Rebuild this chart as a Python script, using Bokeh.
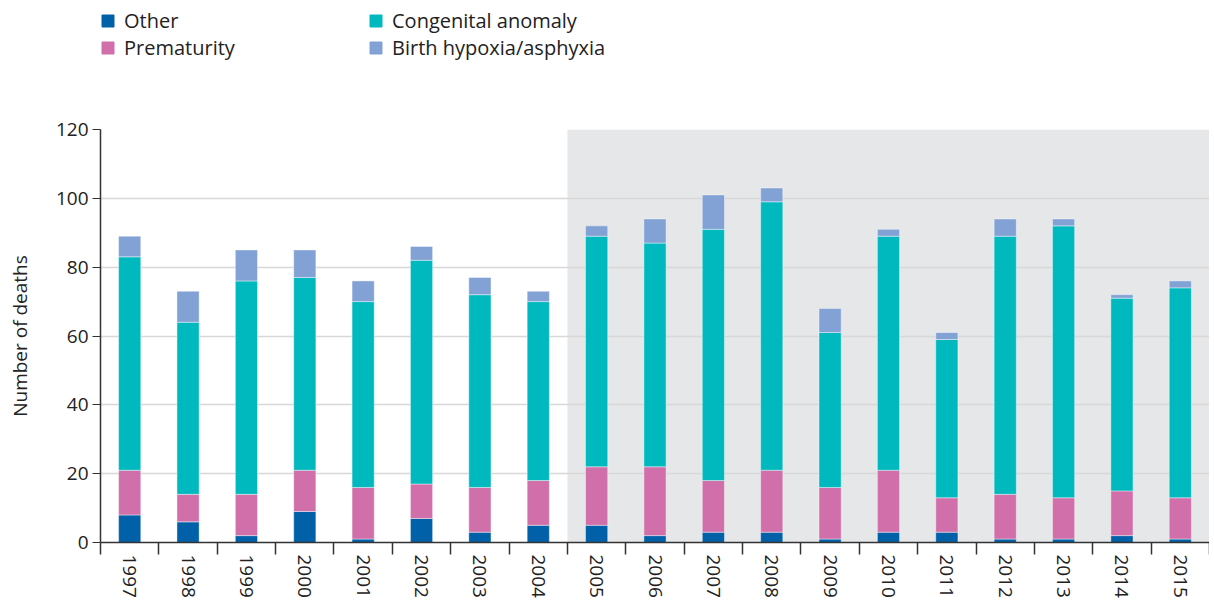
import math
from bokeh.plotting import figure
from bokeh.layouts import column
from bokeh.models import (Range1d, FixedTicker, BoxAnnotation, Legend, LegendItem,
                          ColumnDataSource)
from bokeh.embed import file_html
from bokeh.resources import INLINE

years = [str(y) for y in range(1997, 2016)]
other = [8, 6, 2, 9, 1, 7, 3, 5, 5, 2, 3, 3, 1, 3, 3, 1, 1, 2, 1]
prematurity = [13, 8, 12, 12, 15, 10, 13, 13, 17, 20, 15, 18, 15, 18, 10, 13, 12, 13, 12]
congenital = [62, 50, 62, 56, 54, 65, 56, 52, 67, 65, 73, 78, 45, 68, 46, 75, 79, 56, 61]
birth_hypoxia = [6, 9, 9, 8, 6, 4, 5, 3, 3, 7, 10, 4, 7, 2, 2, 5, 2, 1, 2]
series_names = ["Other", "Prematurity", "Congenital anomaly", "Birth hypoxia/asphyxia"]
series_colors = ["#0061a8", "#d06fa9", "#00b9be", "#82a1d4"]
shade_from_year = "2005"
y_ticks = [0, 20, 40, 60, 80, 100, 120]

FONT = "Open Sans"
TXT = "#222222"

n = len(years)
xpos = list(range(n))
src = ColumnDataSource(dict(x=xpos, other=other, prematurity=prematurity,
                            congenital=congenital, birth=birth_hypoxia))

# ---------- legend strip ----------
LH = 114
lg = figure(width=1209, height=LH, x_range=Range1d(0, 1), y_range=Range1d(0, 1),
            output_backend="svg", toolbar_location=None, x_axis_type=None,
            y_axis_type=None, min_border=0)
lg.outline_line_color = None
lg.grid.visible = False
# legend swatches only (placed outside the visible range)
dummy = [lg.vbar(x=[-10], top=[0], width=0.1, color=c) for c in series_colors]
legend = Legend(items=[LegendItem(label=series_names[i], renderers=[dummy[i]]) for i in range(4)],
                ncols=2, orientation="vertical", location=(0, LH - 61))
legend.background_fill_alpha = 0
legend.border_line_color = None
legend.padding = 0
legend.margin = 0
legend.glyph_width = 15
legend.glyph_height = 15
legend.label_height = 20
legend.label_width = 244
legend.label_standoff = 9
legend.spacing = 0
legend.label_text_font = FONT
legend.label_text_font_size = "20px"
legend.label_text_color = TXT
lg.add_layout(legend)

# ---------- main chart ----------
p = figure(width=1209, height=600 - LH, x_range=Range1d(-0.5, n - 0.5),
           y_range=Range1d(0, 120), output_backend="svg", toolbar_location=None,
           min_border_left=100, min_border_right=0, min_border_top=129 - LH,
           min_border_bottom=58)
p.outline_line_color = None
p.background_fill_color = "white"

shade = BoxAnnotation(left=years.index(shade_from_year) - 0.5, fill_color="#e6e7e9",
                      fill_alpha=1, line_color=None, level="image")
p.add_layout(shade)

rs = p.vbar_stack(["other", "prematurity", "congenital", "birth"], x="x", width=0.38,
                  color=series_colors, source=src, line_color="white",
                  line_alpha=0.6, line_width=0.7)

# x axis
p.xaxis.ticker = FixedTicker(ticks=xpos, minor_ticks=[i - 0.5 for i in range(n + 1)])
p.xaxis.major_label_overrides = {i: years[i] for i in xpos}
p.xaxis.major_tick_line_color = None
p.xaxis.major_tick_out = 0
p.xaxis.major_tick_in = 0
p.xaxis.minor_tick_in = 0
p.xaxis.minor_tick_out = 12
p.xaxis.minor_tick_line_color = "#333333"
p.xaxis.minor_tick_line_width = 1.5
p.xaxis.axis_line_color = "#333333"
p.xaxis.axis_line_width = 1.5
p.xaxis.major_label_orientation = -math.pi / 2
p.xaxis.major_label_standoff = 0
p.xaxis.major_label_text_font = FONT
p.xaxis.major_label_text_font_size = "19px"
p.xaxis.major_label_text_color = TXT

# y axis
p.yaxis.ticker = FixedTicker(ticks=y_ticks)
p.yaxis.major_tick_out = 8
p.yaxis.major_tick_in = 0
p.yaxis.minor_tick_line_color = None
p.yaxis.major_tick_line_color = "#333333"
p.yaxis.axis_line_color = "#333333"
p.yaxis.axis_line_width = 1.5
p.yaxis.major_label_standoff = 4
p.yaxis.major_label_text_font = FONT
p.yaxis.major_label_text_font_size = "19px"
p.yaxis.major_label_text_color = TXT
p.yaxis.axis_label = "Number of deaths"
p.yaxis.axis_label_text_font = FONT
p.yaxis.axis_label_text_font_size = "19px"
p.yaxis.axis_label_text_font_style = "normal"
p.yaxis.axis_label_text_color = TXT
p.yaxis.axis_label_standoff = 20

p.xgrid.visible = False
p.ygrid.ticker = FixedTicker(ticks=y_ticks)
p.ygrid.grid_line_color = "#d8d8d8"
p.ygrid.grid_line_width = 1.5

layout = column(lg, p, spacing=0)
open("out.html", "w").write(file_html(layout, INLINE))
